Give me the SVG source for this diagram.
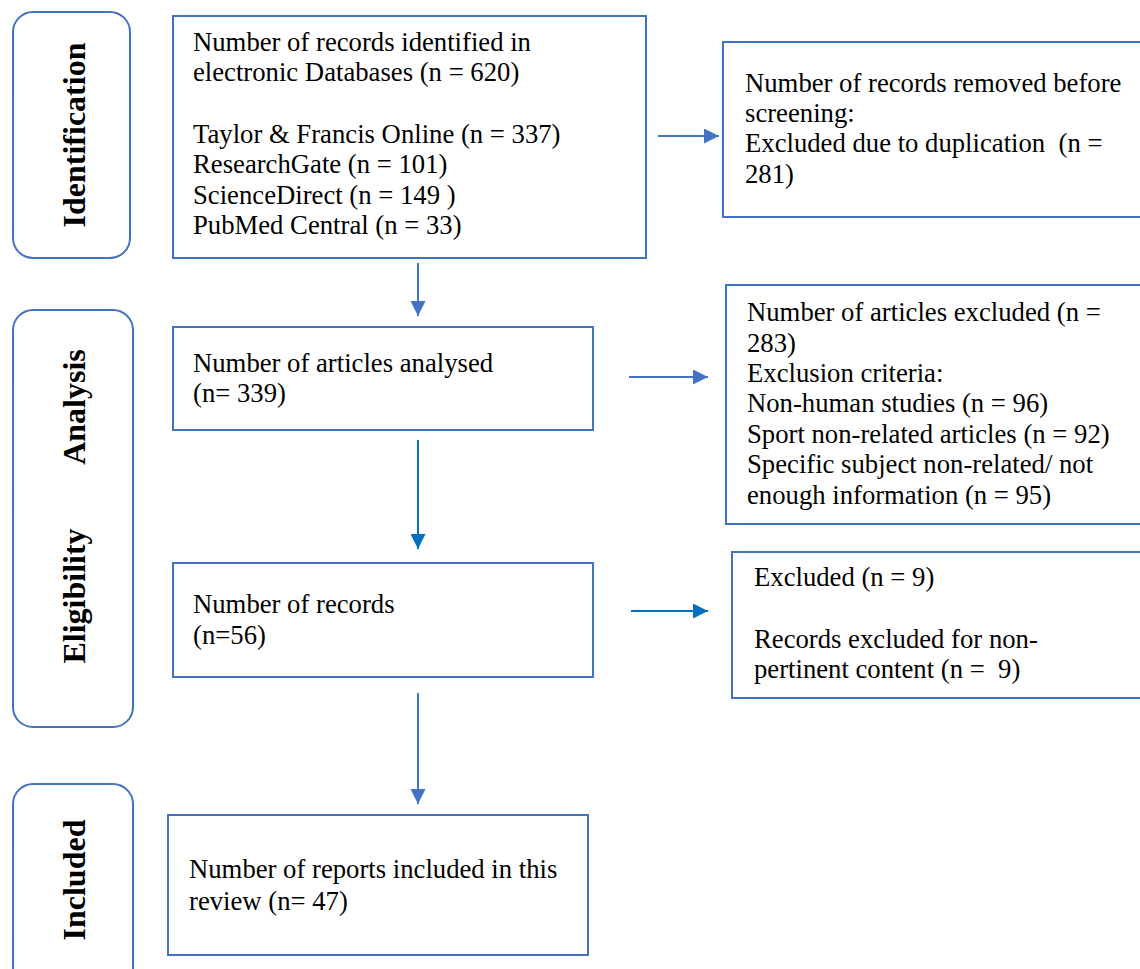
<svg xmlns="http://www.w3.org/2000/svg" width="1140" height="969" viewBox="0 0 1140 969">
  <style>
    .box { fill: #ffffff; stroke: #4472C4; stroke-width: 2; }
    .stage { fill: #ffffff; stroke: #4472C4; stroke-width: 2; }
    .t { font-family: "Liberation Serif", "Times New Roman", serif; font-size: 26.7px; fill: #000000; white-space: pre; }
    .lbl { font-family: "Liberation Serif", "Times New Roman", serif; font-size: 32px; font-weight: bold; fill: #000000; }
    .c1 { stroke: #4472C4; stroke-width: 2; fill: none; }
    .c2 { stroke: #0070C0; stroke-width: 2; fill: none; }
  </style>
  <defs>
    <marker id="ah1" markerUnits="userSpaceOnUse" markerWidth="15" markerHeight="15" refX="15" refY="7.5" orient="auto">
      <path d="M0,0 L15,7.5 L0,15 z" fill="#4472C4"/>
    </marker>
    <marker id="ah2" markerUnits="userSpaceOnUse" markerWidth="15" markerHeight="15" refX="15" refY="7.5" orient="auto">
      <path d="M0,0 L15,7.5 L0,15 z" fill="#0070C0"/>
    </marker>
  </defs>
  <rect width="1140" height="969" fill="#ffffff"/>

  <g id="stage-identification">
    <rect class="stage" x="13" y="12" width="117" height="246" rx="20"/>
    <text class="lbl" transform="translate(85,135) rotate(-90)" text-anchor="middle">Identification</text>
  </g>
  <g id="stage-analysis-eligibility">
    <rect class="stage" x="13" y="310" width="120" height="417" rx="20"/>
    <text class="lbl" transform="translate(85,407) rotate(-90)" text-anchor="middle">Analysis</text>
    <text class="lbl" transform="translate(85,596) rotate(-90)" text-anchor="middle">Eligibility</text>
  </g>
  <g id="stage-included">
    <rect class="stage" x="13" y="784" width="120" height="210" rx="20"/>
    <text class="lbl" transform="translate(85,880) rotate(-90)" text-anchor="middle">Included</text>
  </g>

  <g id="node-identified">
    <rect class="box" x="173" y="16" width="473" height="242"/>
    <text class="t" x="193" y="51">Number of records identified in</text>
    <text class="t" x="193" y="81">electronic Databases (n = 620)</text>
    <text class="t" x="193" y="143">Taylor &amp; Francis Online (n = 337)</text>
    <text class="t" x="193" y="173">ResearchGate (n = 101)</text>
    <text class="t" x="193" y="204">ScienceDirect (n = 149 )</text>
    <text class="t" x="193" y="234">PubMed Central (n = 33)</text>
  </g>
  <g id="node-removed">
    <rect class="box" x="723" y="42" width="430" height="175"/>
    <text class="t" x="745" y="92">Number of records removed before</text>
    <text class="t" x="745" y="122">screening:</text>
    <text class="t" x="745" y="152">Excluded due to duplication  (n =</text>
    <text class="t" x="745" y="183">281)</text>
  </g>
  <g id="node-analysed">
    <rect class="box" x="173" y="327" width="420" height="103"/>
    <text class="t" x="193" y="372">Number of articles analysed</text>
    <text class="t" x="193" y="402">(n= 339)</text>
  </g>
  <g id="node-excluded-articles">
    <rect class="box" x="726" y="285" width="430" height="239"/>
    <text class="t" x="747" y="321">Number of articles excluded (n =</text>
    <text class="t" x="747" y="352">283)</text>
    <text class="t" x="747" y="382">Exclusion criteria:</text>
    <text class="t" x="747" y="412">Non-human studies (n = 96)</text>
    <text class="t" x="747" y="443">Sport non-related articles (n = 92)</text>
    <text class="t" x="747" y="473">Specific subject non-related/ not</text>
    <text class="t" x="747" y="504">enough information (n = 95)</text>
  </g>
  <g id="node-records">
    <rect class="box" x="173" y="563" width="420" height="114"/>
    <text class="t" x="193" y="613">Number of records</text>
    <text class="t" x="193" y="644">(n=56)</text>
  </g>
  <g id="node-excluded-records">
    <rect class="box" x="732" y="552" width="430" height="146"/>
    <text class="t" x="754" y="586">Excluded (n = 9)</text>
    <text class="t" x="754" y="648">Records excluded for non-</text>
    <text class="t" x="754" y="678">pertinent content (n =  9)</text>
  </g>
  <g id="node-included">
    <rect class="box" x="168" y="815" width="420" height="140"/>
    <text class="t" x="189" y="878">Number of reports included in this</text>
    <text class="t" x="189" y="910">review (n= 47)</text>
  </g>

  <g id="connectors">
    <line class="c1" x1="658" y1="136" x2="719" y2="136" marker-end="url(#ah1)"/>
    <line class="c1" x1="418" y1="263" x2="418" y2="316" marker-end="url(#ah1)"/>
    <line class="c1" x1="629" y1="377" x2="708" y2="377" marker-end="url(#ah1)"/>
    <line class="c2" x1="418" y1="440" x2="418" y2="549" marker-end="url(#ah2)"/>
    <line class="c2" x1="631" y1="611" x2="708" y2="611" marker-end="url(#ah2)"/>
    <line class="c1" x1="418" y1="693" x2="418" y2="804" marker-end="url(#ah1)"/>
  </g>
</svg>
